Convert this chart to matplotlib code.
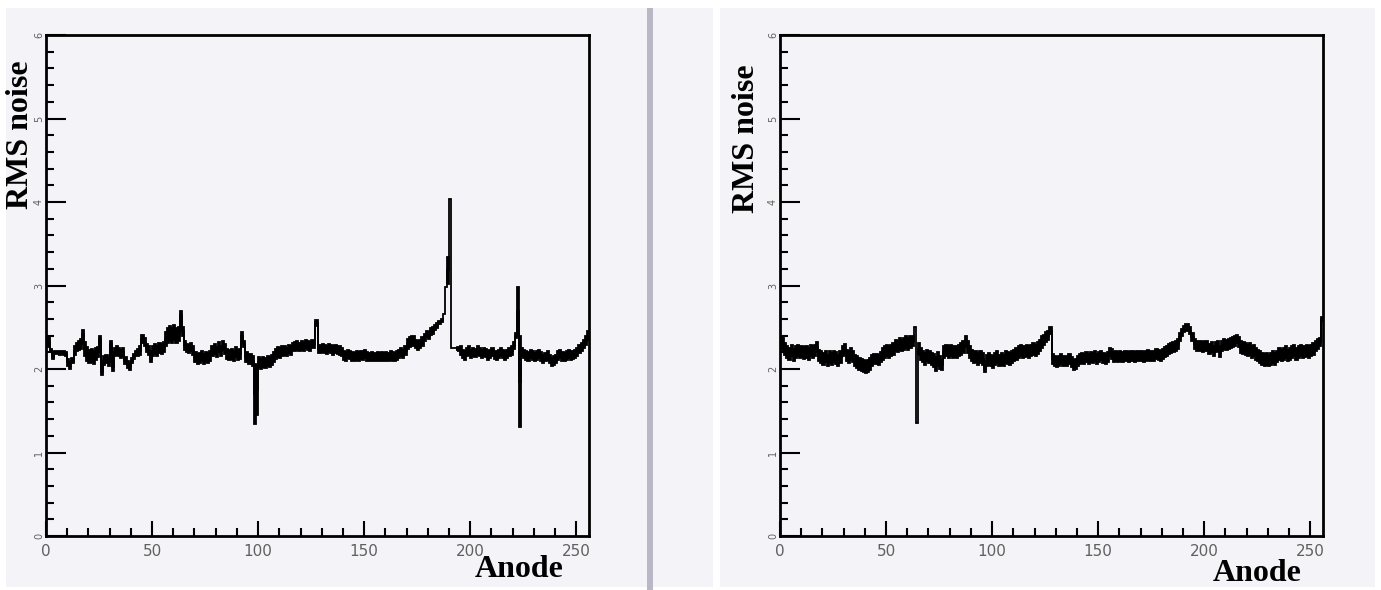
import numpy as np
import matplotlib
matplotlib.use("Agg")
import matplotlib.pyplot as plt
from matplotlib.patches import Rectangle
from matplotlib.ticker import MultipleLocator

# ---------------- data ----------------
anode_edges = np.arange(0, 257)  # 256 anode channels

left_rms = [
    2.34, 2.32, 2.22, 2.14, 2.20, 2.20, 2.19, 2.20, 2.19, 2.18, 2.08, 2.04, 2.10, 2.22, 2.26, 2.28,
    2.30, 2.42, 2.24, 2.18, 2.15, 2.16, 2.14, 2.18, 2.20, 2.36, 1.97, 2.10, 2.12, 2.08, 2.30, 2.02,
    2.20, 2.22, 2.20, 2.18, 2.20, 2.10, 2.05, 2.03, 2.10, 2.15, 2.18, 2.20, 2.22, 2.36, 2.32, 2.25,
    2.22, 2.12, 2.22, 2.24, 2.22, 2.25, 2.24, 2.26, 2.36, 2.40, 2.42, 2.40, 2.44, 2.40, 2.42, 2.65,
    2.45, 2.28, 2.25, 2.24, 2.26, 2.22, 2.14, 2.12, 2.13, 2.15, 2.12, 2.14, 2.13, 2.15, 2.22, 2.24,
    2.20, 2.26, 2.22, 2.28, 2.24, 2.18, 2.17, 2.18, 2.16, 2.20, 2.17, 2.18, 2.40, 2.30, 2.14, 2.12,
    2.12, 2.10, 1.70, 1.75, 2.08, 2.06, 2.08, 2.07, 2.10, 2.08, 2.11, 2.14, 2.18, 2.20, 2.19, 2.21,
    2.22, 2.20, 2.24, 2.22, 2.26, 2.27, 2.28, 2.26, 2.28, 2.27, 2.30, 2.28, 2.27, 2.30, 2.30, 2.55,
    2.24, 2.24, 2.25, 2.24, 2.23, 2.25, 2.24, 2.22, 2.24, 2.23, 2.22, 2.20, 2.16, 2.15, 2.18, 2.17,
    2.15, 2.14, 2.16, 2.15, 2.17, 2.16, 2.18, 2.15, 2.14, 2.15, 2.14, 2.14, 2.15, 2.14, 2.15, 2.14,
    2.15, 2.14, 2.16, 2.15, 2.14, 2.16, 2.18, 2.20, 2.18, 2.22, 2.30, 2.32, 2.34, 2.33, 2.30, 2.28,
    2.30, 2.33, 2.38, 2.42, 2.40, 2.45, 2.46, 2.50, 2.52, 2.56, 2.58, 2.66, 2.98, 3.18, 4.04, 2.25,
    2.25, 2.25, 2.24, 2.22, 2.18, 2.16, 2.20, 2.22, 2.18, 2.20, 2.19, 2.22, 2.20, 2.18, 2.20, 2.19,
    2.16, 2.18, 2.20, 2.17, 2.16, 2.18, 2.20, 2.18, 2.16, 2.18, 2.20, 2.22, 2.28, 2.40, 2.70, 1.85,
    2.20, 2.18, 2.16, 2.15, 2.18, 2.16, 2.14, 2.16, 2.18, 2.15, 2.12, 2.14, 2.16, 2.12, 2.08, 2.10,
    2.12, 2.16, 2.18, 2.15, 2.14, 2.16, 2.18, 2.16, 2.17, 2.18, 2.20, 2.24, 2.26, 2.30, 2.34, 2.40,
]
left_err = [
    0.06, 0.06, 0.02, 0.02, 0.02, 0.02, 0.02, 0.02, 0.02, 0.02, 0.04, 0.04, 0.03, 0.05, 0.05, 0.05,
    0.06, 0.05, 0.08, 0.08, 0.08, 0.08, 0.08, 0.07, 0.06, 0.04, 0.04, 0.05, 0.05, 0.05, 0.04, 0.04,
    0.05, 0.05, 0.05, 0.05, 0.05, 0.04, 0.04, 0.04, 0.03, 0.03, 0.03, 0.04, 0.05, 0.05, 0.05, 0.05,
    0.05, 0.04, 0.06, 0.06, 0.06, 0.06, 0.06, 0.06, 0.08, 0.09, 0.09, 0.09, 0.09, 0.09, 0.08, 0.05,
    0.05, 0.05, 0.05, 0.05, 0.05, 0.05, 0.06, 0.06, 0.06, 0.06, 0.06, 0.06, 0.06, 0.06, 0.06, 0.06,
    0.06, 0.06, 0.06, 0.05, 0.06, 0.06, 0.06, 0.06, 0.06, 0.06, 0.06, 0.06, 0.04, 0.04, 0.06, 0.06,
    0.06, 0.06, 0.36, 0.30, 0.06, 0.06, 0.06, 0.06, 0.06, 0.06, 0.06, 0.06, 0.06, 0.06, 0.06, 0.06,
    0.05, 0.05, 0.05, 0.05, 0.05, 0.05, 0.05, 0.05, 0.05, 0.05, 0.05, 0.05, 0.05, 0.05, 0.05, 0.04,
    0.05, 0.05, 0.05, 0.05, 0.05, 0.05, 0.05, 0.05, 0.05, 0.05, 0.05, 0.05, 0.05, 0.05, 0.05, 0.05,
    0.05, 0.05, 0.05, 0.05, 0.05, 0.05, 0.05, 0.05, 0.05, 0.05, 0.05, 0.05, 0.05, 0.05, 0.05, 0.05,
    0.05, 0.05, 0.05, 0.05, 0.05, 0.05, 0.05, 0.05, 0.05, 0.05, 0.06, 0.06, 0.06, 0.06, 0.05, 0.05,
    0.05, 0.05, 0.04, 0.04, 0.04, 0.04, 0.04, 0.03, 0.03, 0.02, 0.02, 0.00, 0.00, 0.16, 0.00, 0.00,
    0.00, 0.00, 0.02, 0.05, 0.05, 0.05, 0.05, 0.05, 0.05, 0.05, 0.05, 0.05, 0.05, 0.05, 0.05, 0.05,
    0.05, 0.05, 0.05, 0.05, 0.05, 0.05, 0.05, 0.05, 0.05, 0.05, 0.05, 0.05, 0.04, 0.03, 0.28, 0.55,
    0.05, 0.05, 0.05, 0.05, 0.05, 0.05, 0.05, 0.05, 0.05, 0.05, 0.05, 0.05, 0.05, 0.05, 0.05, 0.05,
    0.05, 0.05, 0.05, 0.05, 0.05, 0.05, 0.05, 0.05, 0.05, 0.05, 0.05, 0.05, 0.05, 0.05, 0.05, 0.05,
]

right_rms = [
    2.32, 2.30, 2.24, 2.20, 2.18, 2.22, 2.17, 2.20, 2.22, 2.20, 2.21, 2.19, 2.20, 2.18, 2.22, 2.20,
    2.22, 2.26, 2.16, 2.14, 2.12, 2.15, 2.10, 2.14, 2.12, 2.15, 2.13, 2.10, 2.14, 2.22, 2.24, 2.16,
    2.14, 2.18, 2.15, 2.10, 2.08, 2.06, 2.05, 2.04, 2.02, 2.04, 2.06, 2.10, 2.12, 2.12, 2.11, 2.14,
    2.18, 2.20, 2.22, 2.20, 2.22, 2.24, 2.28, 2.27, 2.30, 2.28, 2.30, 2.32, 2.30, 2.32, 2.34, 2.50,
    1.35, 2.24, 2.18, 2.15, 2.12, 2.16, 2.14, 2.12, 2.10, 2.06, 2.12, 2.08, 2.05, 2.20, 2.22, 2.20,
    2.22, 2.20, 2.21, 2.20, 2.22, 2.24, 2.26, 2.35, 2.26, 2.20, 2.16, 2.14, 2.15, 2.12, 2.14, 2.12,
    2.00, 2.10, 2.12, 2.10, 2.08, 2.12, 2.14, 2.10, 2.12, 2.10, 2.14, 2.13, 2.12, 2.14, 2.16, 2.18,
    2.20, 2.22, 2.20, 2.21, 2.22, 2.20, 2.22, 2.24, 2.22, 2.25, 2.28, 2.32, 2.35, 2.38, 2.40, 2.46,
    2.12, 2.10, 2.08, 2.10, 2.12, 2.10, 2.09, 2.10, 2.12, 2.08, 2.05, 2.06, 2.10, 2.12, 2.13, 2.12,
    2.14, 2.12, 2.14, 2.13, 2.15, 2.12, 2.14, 2.16, 2.13, 2.12, 2.14, 2.20, 2.18, 2.14, 2.16, 2.14,
    2.15, 2.14, 2.16, 2.15, 2.14, 2.16, 2.15, 2.14, 2.16, 2.15, 2.16, 2.14, 2.15, 2.17, 2.16, 2.15,
    2.16, 2.18, 2.17, 2.16, 2.18, 2.20, 2.22, 2.24, 2.25, 2.26, 2.28, 2.30, 2.38, 2.44, 2.48, 2.50,
    2.50, 2.46, 2.38, 2.30, 2.28, 2.27, 2.28, 2.26, 2.28, 2.27, 2.24, 2.26, 2.22, 2.26, 2.27, 2.20,
    2.28, 2.30, 2.29, 2.30, 2.31, 2.32, 2.34, 2.36, 2.32, 2.26, 2.25, 2.24, 2.22, 2.24, 2.20, 2.22,
    2.18, 2.16, 2.14, 2.12, 2.11, 2.12, 2.10, 2.12, 2.14, 2.12, 2.15, 2.18, 2.16, 2.18, 2.20, 2.16,
    2.18, 2.20, 2.22, 2.18, 2.20, 2.22, 2.20, 2.21, 2.22, 2.20, 2.22, 2.24, 2.28, 2.30, 2.32, 2.60,
]
right_err = [
    0.07, 0.07, 0.07, 0.07, 0.07, 0.07, 0.07, 0.07, 0.07, 0.07, 0.07, 0.07, 0.07, 0.07, 0.07, 0.07,
    0.07, 0.06, 0.07, 0.07, 0.07, 0.07, 0.07, 0.07, 0.07, 0.07, 0.07, 0.07, 0.07, 0.06, 0.06, 0.07,
    0.07, 0.07, 0.07, 0.07, 0.07, 0.07, 0.07, 0.07, 0.07, 0.07, 0.07, 0.07, 0.06, 0.06, 0.06, 0.06,
    0.07, 0.07, 0.07, 0.07, 0.07, 0.07, 0.07, 0.07, 0.07, 0.07, 0.07, 0.07, 0.07, 0.07, 0.06, 0.00,
    0.00, 0.07, 0.07, 0.07, 0.07, 0.07, 0.07, 0.07, 0.08, 0.08, 0.08, 0.08, 0.06, 0.07, 0.07, 0.07,
    0.07, 0.07, 0.07, 0.07, 0.07, 0.07, 0.07, 0.04, 0.07, 0.07, 0.07, 0.07, 0.07, 0.07, 0.07, 0.07,
    0.04, 0.07, 0.07, 0.07, 0.07, 0.07, 0.07, 0.07, 0.07, 0.07, 0.07, 0.07, 0.07, 0.07, 0.07, 0.07,
    0.07, 0.07, 0.07, 0.07, 0.07, 0.07, 0.07, 0.07, 0.07, 0.07, 0.07, 0.07, 0.06, 0.06, 0.05, 0.04,
    0.06, 0.06, 0.06, 0.06, 0.06, 0.06, 0.06, 0.06, 0.06, 0.06, 0.06, 0.06, 0.06, 0.06, 0.06, 0.06,
    0.06, 0.06, 0.06, 0.06, 0.06, 0.06, 0.06, 0.05, 0.06, 0.06, 0.06, 0.05, 0.06, 0.06, 0.06, 0.06,
    0.06, 0.06, 0.06, 0.06, 0.06, 0.06, 0.06, 0.06, 0.06, 0.06, 0.06, 0.06, 0.06, 0.06, 0.06, 0.06,
    0.06, 0.06, 0.06, 0.06, 0.06, 0.06, 0.06, 0.06, 0.06, 0.06, 0.06, 0.06, 0.05, 0.04, 0.04, 0.04,
    0.04, 0.04, 0.05, 0.06, 0.06, 0.06, 0.06, 0.06, 0.06, 0.06, 0.06, 0.06, 0.06, 0.06, 0.06, 0.06,
    0.06, 0.06, 0.06, 0.06, 0.06, 0.06, 0.06, 0.05, 0.06, 0.07, 0.07, 0.07, 0.07, 0.07, 0.07, 0.07,
    0.07, 0.07, 0.07, 0.07, 0.07, 0.07, 0.07, 0.07, 0.07, 0.07, 0.07, 0.07, 0.07, 0.07, 0.07, 0.07,
    0.07, 0.07, 0.07, 0.07, 0.07, 0.07, 0.07, 0.07, 0.07, 0.07, 0.07, 0.07, 0.06, 0.06, 0.05, 0.02,
]

x_ticks = [0, 50, 100, 150, 200, 250]
y_ticks = [0, 1, 2, 3, 4, 5, 6]
x_label = "Anode"
y_label = "RMS noise"

# ---------------- figure ----------------
W, H = 1381, 590
fig = plt.figure(figsize=(W / 100, H / 100), dpi=100)
bg = "#f4f4f8"
fig.patch.set_facecolor("white")

def px_rect(x0, y0, x1, y1, color):
    fig.patches.append(Rectangle((x0 / W, 1 - y1 / H), (x1 - x0) / W, (y1 - y0) / H,
                                 transform=fig.transFigure, facecolor=color,
                                 edgecolor="none", zorder=-10))

# light backgrounds of the two panels and the separator bar
px_rect(6, 8, 647, 587, bg)
px_rect(653, 8, 713, 587, bg)
px_rect(720, 8, 1375, 587, bg)
px_rect(647, 8, 653, 590, "#b9b6c6")

serif = ["Liberation Serif", "DejaVu Serif"]

def make_panel(x0px, values, errors):
    ax = fig.add_axes([x0px / W, 1 - 536 / H, 543 / W, 501 / H])
    ax.set_facecolor(bg)
    v = np.array(values)
    e = np.array(errors)
    has_err = e > 0
    top = np.where(has_err, v + e, np.nan)
    bot = np.where(has_err, v - e, np.nan)
    ax.stairs(top, anode_edges, baseline=bot, fill=True, facecolor="black",
              edgecolor="black", lw=1.3)
    ax.stairs(v, anode_edges, baseline=None, color="black", lw=1.3)
    ax.set_xlim(0, 256)
    ax.set_ylim(0, 6)
    ax.set_xticks(x_ticks)
    ax.set_yticks(y_ticks)
    ax.xaxis.set_minor_locator(MultipleLocator(10))
    ax.yaxis.set_minor_locator(MultipleLocator(0.2))
    ax.tick_params(axis="both", which="both", direction="in", top=False, right=False,
                   width=1.5, color="black")
    ax.tick_params(axis="x", which="major", length=11, pad=6, labelsize=11,
                   labelcolor="#606060")
    ax.tick_params(axis="y", which="major", length=14.5, pad=1.5, labelsize=7,
                   labelcolor="#606060", labelrotation=90)
    ax.tick_params(axis="both", which="minor", length=5.5)
    for yl in ax.get_yticklabels():
        yl.set_va("center")
    for s in ax.spines.values():
        s.set_linewidth(2.0)
        s.set_color("black")
    return ax

axL = make_panel(46, left_rms, left_err)
axR = make_panel(780, right_rms, right_err)

# axis titles (ROOT style, bold Times)
fig.text(21 / W, 1 - 135 / H, y_label, rotation=90, ha="center", va="center",
         fontsize=23, fontweight="bold", family=serif)
fig.text(747 / W, 1 - 139 / H, y_label, rotation=90, ha="center", va="center",
         fontsize=23, fontweight="bold", family=serif)
fig.text(475 / W, 1 - 577 / H, x_label, ha="left", va="baseline",
         fontsize=23, fontweight="bold", family=serif)
fig.text(1213 / W, 1 - 581 / H, x_label, ha="left", va="baseline",
         fontsize=23, fontweight="bold", family=serif)

fig.savefig("out.png", dpi=100, facecolor=fig.get_facecolor())
